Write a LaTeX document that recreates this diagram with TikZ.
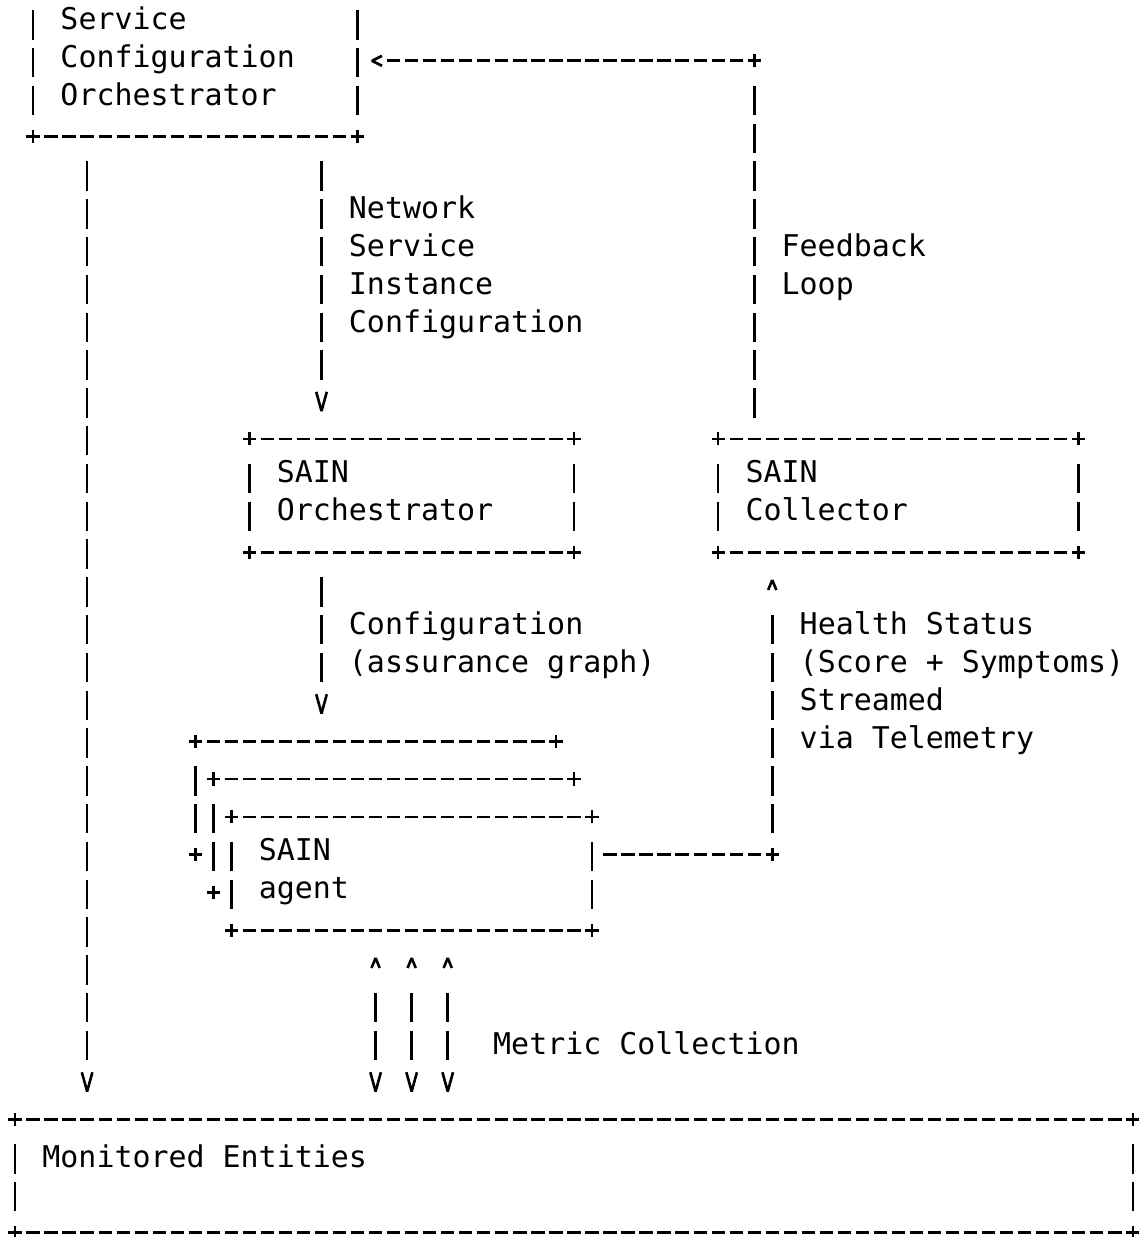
\documentclass[tikz,border=0pt]{standalone}
\usepackage{fontspec}
\newfontfamily\asciifont{DejaVu Sans Mono}
\usetikzlibrary{arrows.meta,fit}

\newdimen\glyphgap
\pgfdeclarearrow{
  name = Glyph,
  parameters = {\the\pgfarrowlength,\the\pgfarrowwidth,\the\pgfarrowinset},
  setup code = {
    \pgfarrowssettipend{0pt}
    \pgfarrowssetbackend{-\pgfarrowlength}
    \glyphgap=-\pgfarrowlength
    \advance\glyphgap by -\pgfarrowinset
    \pgfarrowssetlineend{\glyphgap}
    \pgfarrowshullpoint{0pt}{0pt}
    \pgfarrowsupperhullpoint{-\pgfarrowlength}{.5\pgfarrowwidth}
    \pgfarrowssavethe\pgfarrowlength
    \pgfarrowssavethe\pgfarrowwidth
  },
  drawing code = {
    \pgfsetdash{}{0pt}
    \pgfsetbeveljoin
    \pgfpathmoveto{\pgfqpoint{-\pgfarrowlength}{.5\pgfarrowwidth}}
    \pgfpathlineto{\pgfqpoint{0pt}{0pt}}
    \pgfpathlineto{\pgfqpoint{-\pgfarrowlength}{-.5\pgfarrowwidth}}
    \pgfusepathqstroke
  },
  defaults = {length=5pt, width=5pt, inset=2pt}
}

\newcommand\asciibox[1]{%
  \draw[hdash] (#1.north west) -- (#1.north east);
  \draw[hdash] (#1.south west) -- (#1.south east);
  \draw[vbar] (#1.north west) -- (#1.south west);
  \draw[vbar] (#1.north east) -- (#1.south east);
  \foreach \crn in {north west,north east,south west,south east}
    \pic at (#1.\crn) {plus};
}

\begin{document}
\begin{tikzpicture}[x=9.015pt, y=-18.9pt,
  glyph/.style={line width=1.3pt},
  hdash/.style={glyph, dash pattern=on 6.65pt off 2.365pt, shorten <=5.69pt, shorten >=5.69pt},
  vbar/.style={glyph, dash pattern=on 14.67pt off 4.23pt, shorten <=12.49pt, shorten >=10.64pt},
  vbarup/.style={vbar, shorten <=10.64pt, shorten >=12.49pt},
  arrdown/.style={-{Glyph[length=9.6pt, width=5.3pt, inset=6.05pt]}, shorten >=13.89pt},
  arrup/.style={-{Glyph[length=5pt, width=4.1pt, inset=12.5pt]}, shorten >=13.89pt},
  arrboth/.style={{Glyph[length=5pt, width=4.1pt, inset=12.5pt]}-{Glyph[length=9.6pt, width=5.3pt, inset=6.05pt]}, shorten <=13.89pt, shorten >=13.89pt},
  arrleft/.style={-{Glyph[length=5pt, width=5pt, inset=2.49pt]}, shorten >=7.21pt},
  abox/.style={inner sep=0pt, outer sep=0pt},
  lbl/.style={anchor=north west, inner sep=0pt, align=left, shift={(-0.5,-0.4354)},
    font=\asciifont\fontsize{14.97pt}{18.9pt}\selectfont, execute at begin node=\strut},
  plus/.pic={\draw[glyph] (-3.3pt,0) -- (3.3pt,0) (0,-3.3pt) -- (0,3.3pt);}
]
    \path[use as bounding box, fill=white] (-0.832,-0.6085) rectangle (62.73,32.116);

    \node[abox, fit={(1,-1) (19,3)}] (sco) {};
    \node[abox, fit={(13,11) (31,14)}] (orch) {};
    \node[abox, fit={(39,11) (59,14)}] (coll) {};
    \node[abox, fit={(10,19) (30,22)}] (agent3) {};
    \node[abox, fit={(11,20) (31,23)}] (agent2) {};
    \node[abox, fit={(12,21) (32,24)}] (agent) {};
    \node[abox, fit={(0,29) (62,32)}] (ment) {};

    \asciibox{sco}
    \asciibox{orch}
    \asciibox{coll}
    \asciibox{agent}
    \asciibox{ment}

    \draw[hdash] (agent3.north west) -- (agent3.north east);
    \draw[vbar] (agent3.north west) -- (agent3.south west);
    \pic at (agent3.north west) {plus};
    \pic at (agent3.north east) {plus};
    \pic at (agent3.south west) {plus};

    \draw[hdash] (agent2.north west) -- (agent2.north east);
    \draw[vbar] (agent2.north west) -- (agent2.south west);
    \pic at (agent2.north west) {plus};
    \pic at (agent2.north east) {plus};
    \pic at (agent2.south west) {plus};

    \node[lbl] (scolbl) at (3,0) {Service\\Configuration\\Orchestrator};
    \node[lbl] (nsilbl) at (19,5) {Network\\Service\\Instance\\Configuration};
    \node[lbl] (fblbl) at (43,6) {Feedback\\Loop};
    \node[lbl] (orchlbl) at (15,12) {SAIN\\Orchestrator};
    \node[lbl] (colllbl) at (41,12) {SAIN\\Collector};
    \node[lbl] (cfglbl) at (19,16) {Configuration\\(assurance graph)};
    \node[lbl] (hslbl) at (44,16) {Health Status\\(Score + Symptoms)\\Streamed\\via Telemetry};
    \node[lbl] (agentlbl) at (14,22) {SAIN\\agent};
    \node[lbl] (mclbl) at (27,27) {Metric Collection};
    \node[lbl] (mentlbl) at (2,30) {Monitored Entities};

    \draw[vbar, arrdown] (sco.south -| 4,0) -- (ment.north -| 4,0);
    \draw[vbar, arrdown] (sco.south -| 17,0) -- (orch.north -| 17,0);
    \draw[vbar, arrdown] (orch.south -| 17,0) -- (agent3.north -| 17,0);

    \coordinate (fbbend) at (41,1);
    \draw[vbarup] (coll.north -| fbbend) -- (fbbend);
    \draw[hdash, arrleft] (fbbend) -- (sco.east);
    \pic at (fbbend) {plus};

    \coordinate (hsbend) at (42,22);
    \draw[hdash] (agent.east |- hsbend) -- (hsbend);
    \draw[vbarup, arrup] (hsbend) -- (coll.south -| hsbend);
    \pic at (hsbend) {plus};

    \foreach \col in {20,22,24}
        \draw[vbar, arrboth] (agent.south -| \col,0) -- (ment.north -| \col,0);
\end{tikzpicture}
\end{document}
